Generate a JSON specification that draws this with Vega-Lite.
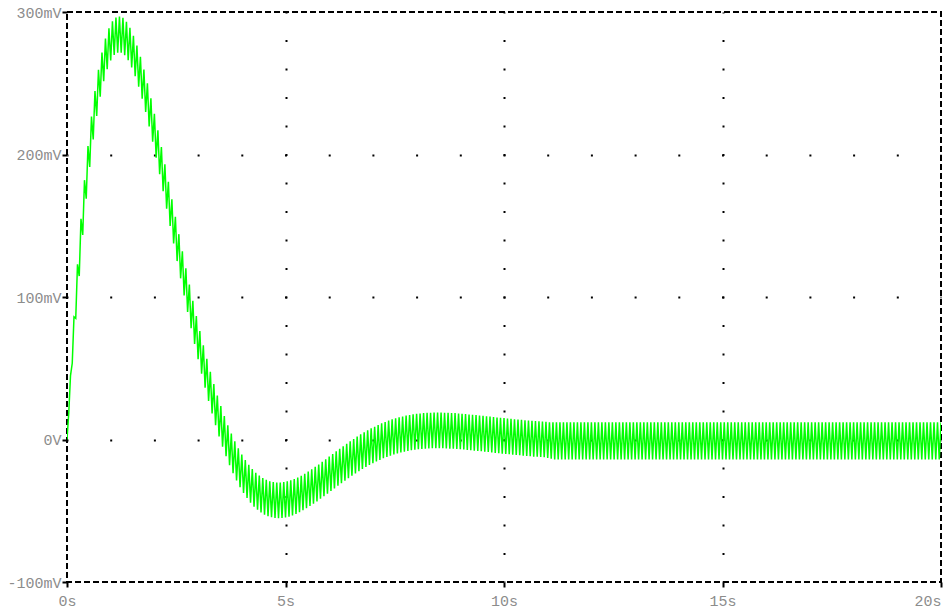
{
  "$schema": "https://vega.github.io/schema/vega-lite/v6.json",
  "autosize": "none",
  "width": 874,
  "height": 570,
  "padding": {"left": 67, "top": 12, "right": 8, "bottom": 31},
  "background": "white",
  "config": {
    "view": {"stroke": "black", "strokeWidth": 2, "strokeDash": [6, 3]},
    "axis": {
      "labelFont": "Liberation Mono",
      "labelFontSize": 15,
      "labelColor": "#8c8c8c",
      "tickColor": "black",
      "tickWidth": 2,
      "tickSize": 5,
      "domain": false,
      "title": null,
      "gridColor": "black",
      "gridWidth": 2
    }
  },
  "data": {"values": [
    {"t":0,"v":0},{"t":0.04,"v":18.4},{"t":0.08,"v":44.8},{"t":0.12,"v":53.5},{"t":0.16,"v":86.1},{"t":0.2,"v":85},{"t":0.24,"v":122.9},{"t":0.28,"v":114.7},{"t":0.32,"v":154.9},{"t":0.36,"v":143.5},
    {"t":0.4,"v":182},{"t":0.44,"v":169},{"t":0.48,"v":205.9},{"t":0.52,"v":191.3},{"t":0.56,"v":226.7},{"t":0.6,"v":210.6},{"t":0.64,"v":244.5},{"t":0.68,"v":227},{"t":0.72,"v":259.4},{"t":0.76,"v":240.5},
    {"t":0.8,"v":271.6},{"t":0.84,"v":251.5},{"t":0.88,"v":281.3},{"t":0.92,"v":259.9},{"t":0.96,"v":288.5},{"t":1,"v":266},{"t":1.04,"v":293.4},{"t":1.08,"v":269.8},{"t":1.12,"v":296.1},{"t":1.16,"v":271.5},
    {"t":1.2,"v":296.9},{"t":1.24,"v":271.4},{"t":1.28,"v":295.9},{"t":1.32,"v":269.6},{"t":1.36,"v":293.2},{"t":1.4,"v":266.1},{"t":1.44,"v":288.9},{"t":1.48,"v":261.1},{"t":1.52,"v":283.3},{"t":1.56,"v":254.9},
    {"t":1.6,"v":276.5},{"t":1.64,"v":247.5},{"t":1.68,"v":268.5},{"t":1.72,"v":239.1},{"t":1.76,"v":259.6},{"t":1.8,"v":229.8},{"t":1.84,"v":249.9},{"t":1.88,"v":219.7},{"t":1.92,"v":239.5},{"t":1.96,"v":209},
    {"t":2,"v":228.5},{"t":2.04,"v":197.8},{"t":2.08,"v":217},{"t":2.12,"v":186.1},{"t":2.16,"v":205.2},{"t":2.2,"v":174.2},{"t":2.24,"v":193.1},{"t":2.28,"v":162},{"t":2.32,"v":180.9},{"t":2.36,"v":149.8},
    {"t":2.4,"v":168.6},{"t":2.44,"v":137.5},{"t":2.48,"v":156.3},{"t":2.52,"v":125.2},{"t":2.56,"v":144.1},{"t":2.6,"v":113.1},{"t":2.64,"v":132},{"t":2.68,"v":101.1},{"t":2.72,"v":120.2},{"t":2.76,"v":89.5},
    {"t":2.8,"v":108.7},{"t":2.84,"v":78.1},{"t":2.88,"v":97.4},{"t":2.92,"v":67},{"t":2.96,"v":86.6},{"t":3,"v":56.4},{"t":3.04,"v":76.1},{"t":3.08,"v":46.1},{"t":3.12,"v":66.1},{"t":3.16,"v":36.4},
    {"t":3.2,"v":56.6},{"t":3.24,"v":27.1},{"t":3.28,"v":47.5},{"t":3.32,"v":18.3},{"t":3.36,"v":39},{"t":3.4,"v":10},{"t":3.44,"v":30.9},{"t":3.48,"v":2.2},{"t":3.52,"v":23.4},{"t":3.56,"v":-5.1},
    {"t":3.6,"v":16.5},{"t":3.64,"v":-11.8},{"t":3.68,"v":10},{"t":3.72,"v":-18},{"t":3.76,"v":4.1},{"t":3.8,"v":-23.6},{"t":3.84,"v":-1.3},{"t":3.88,"v":-28.8},{"t":3.92,"v":-6.2},{"t":3.96,"v":-33.4},
    {"t":4,"v":-10.5},{"t":4.04,"v":-37.5},{"t":4.08,"v":-14.4},{"t":4.12,"v":-41.1},{"t":4.16,"v":-17.8},{"t":4.2,"v":-44.3},{"t":4.24,"v":-20.8},{"t":4.28,"v":-47.1},{"t":4.32,"v":-23.3},{"t":4.36,"v":-49.3},
    {"t":4.4,"v":-25.3},{"t":4.44,"v":-51.2},{"t":4.48,"v":-27},{"t":4.52,"v":-52.7},{"t":4.56,"v":-28.3},{"t":4.6,"v":-53.8},{"t":4.64,"v":-29.3},{"t":4.68,"v":-54.6},{"t":4.72,"v":-29.9},{"t":4.76,"v":-55.1},
    {"t":4.8,"v":-30.2},{"t":4.84,"v":-55.2},{"t":4.88,"v":-30.2},{"t":4.92,"v":-55.1},{"t":4.96,"v":-29.9},{"t":5,"v":-54.7},{"t":5.04,"v":-29.4},{"t":5.08,"v":-54.1},{"t":5.12,"v":-28.7},{"t":5.16,"v":-53.3},
    {"t":5.2,"v":-27.8},{"t":5.24,"v":-52.3},{"t":5.28,"v":-26.7},{"t":5.32,"v":-51.1},{"t":5.36,"v":-25.4},{"t":5.4,"v":-49.7},{"t":5.44,"v":-24},{"t":5.48,"v":-48.3},{"t":5.52,"v":-22.5},{"t":5.56,"v":-46.7},
    {"t":5.6,"v":-20.9},{"t":5.64,"v":-45.1},{"t":5.68,"v":-19.2},{"t":5.72,"v":-43.4},{"t":5.76,"v":-17.5},{"t":5.8,"v":-41.6},{"t":5.84,"v":-15.7},{"t":5.88,"v":-39.8},{"t":5.92,"v":-13.9},{"t":5.96,"v":-38},
    {"t":6,"v":-12},{"t":6.04,"v":-36.1},{"t":6.08,"v":-10.2},{"t":6.12,"v":-34.3},{"t":6.16,"v":-8.3},{"t":6.2,"v":-32.4},{"t":6.24,"v":-6.5},{"t":6.28,"v":-30.6},{"t":6.32,"v":-4.7},{"t":6.36,"v":-28.9},
    {"t":6.4,"v":-3},{"t":6.44,"v":-27.1},{"t":6.48,"v":-1.2},{"t":6.52,"v":-25.4},{"t":6.56,"v":0.4},{"t":6.6,"v":-23.8},{"t":6.64,"v":2},{"t":6.68,"v":-22.2},{"t":6.72,"v":3.6},{"t":6.76,"v":-20.7},
    {"t":6.8,"v":5},{"t":6.84,"v":-19.3},{"t":6.88,"v":6.4},{"t":6.92,"v":-17.9},{"t":6.96,"v":7.8},{"t":7,"v":-16.6},{"t":7.04,"v":9},{"t":7.08,"v":-15.4},{"t":7.12,"v":10.2},{"t":7.16,"v":-14.3},
    {"t":7.2,"v":11.3},{"t":7.24,"v":-13.2},{"t":7.28,"v":12.3},{"t":7.32,"v":-12.2},{"t":7.36,"v":13.3},{"t":7.4,"v":-11.3},{"t":7.44,"v":14.1},{"t":7.48,"v":-10.5},{"t":7.52,"v":14.9},{"t":7.56,"v":-9.8},
    {"t":7.6,"v":15.6},{"t":7.64,"v":-9.1},{"t":7.68,"v":16.2},{"t":7.72,"v":-8.5},{"t":7.76,"v":16.8},{"t":7.8,"v":-8},{"t":7.84,"v":17.2},{"t":7.88,"v":-7.6},{"t":7.92,"v":17.7},{"t":7.96,"v":-7.2},
    {"t":8,"v":18},{"t":8.04,"v":-6.9},{"t":8.08,"v":18.3},{"t":8.12,"v":-6.6},{"t":8.16,"v":18.5},{"t":8.2,"v":-6.4},{"t":8.24,"v":18.7},{"t":8.28,"v":-6.3},{"t":8.32,"v":18.8},{"t":8.36,"v":-6.2},
    {"t":8.4,"v":18.9},{"t":8.44,"v":-6.1},{"t":8.48,"v":18.9},{"t":8.52,"v":-6.1},{"t":8.56,"v":18.9},{"t":8.6,"v":-6.2},{"t":8.64,"v":18.8},{"t":8.68,"v":-6.3},{"t":8.72,"v":18.7},{"t":8.76,"v":-6.4},
    {"t":8.8,"v":18.6},{"t":8.84,"v":-6.5},{"t":8.88,"v":18.5},{"t":8.92,"v":-6.6},{"t":8.96,"v":18.3},{"t":9,"v":-6.8},{"t":9.04,"v":18.1},{"t":9.08,"v":-7},{"t":9.12,"v":17.9},{"t":9.16,"v":-7.3},
    {"t":9.2,"v":17.6},{"t":9.24,"v":-7.5},{"t":9.28,"v":17.4},{"t":9.32,"v":-7.8},{"t":9.36,"v":17.1},{"t":9.4,"v":-8},{"t":9.44,"v":16.9},{"t":9.48,"v":-8.3},{"t":9.52,"v":16.6},{"t":9.56,"v":-8.6},
    {"t":9.6,"v":16.3},{"t":9.64,"v":-8.8},{"t":9.68,"v":16.1},{"t":9.72,"v":-9.1},{"t":9.76,"v":15.8},{"t":9.8,"v":-9.4},{"t":9.84,"v":15.5},{"t":9.88,"v":-9.7},{"t":9.92,"v":15.2},{"t":9.96,"v":-9.9},
    {"t":10,"v":15},{"t":10.04,"v":-10.2},{"t":10.08,"v":14.7},{"t":10.12,"v":-10.4},{"t":10.16,"v":14.5},{"t":10.2,"v":-10.7},{"t":10.24,"v":14.2},{"t":10.28,"v":-10.9},{"t":10.32,"v":14},{"t":10.36,"v":-11.1},
    {"t":10.4,"v":13.8},{"t":10.44,"v":-11.4},{"t":10.48,"v":13.5},{"t":10.52,"v":-11.6},{"t":10.56,"v":13.3},{"t":10.6,"v":-11.8},{"t":10.64,"v":13.1},{"t":10.68,"v":-12},{"t":10.72,"v":13},{"t":10.76,"v":-12.1},
    {"t":10.8,"v":12.8},{"t":10.84,"v":-12.3},{"t":10.88,"v":12.6},{"t":10.92,"v":-12.5},{"t":10.96,"v":12.5},{"t":11,"v":-13},{"t":11.04,"v":12},{"t":11.08,"v":-13.5},{"t":11.12,"v":12},{"t":11.16,"v":-14},
    {"t":11.2,"v":12},{"t":11.24,"v":-14},{"t":11.28,"v":12},{"t":11.32,"v":-14},{"t":11.36,"v":12},{"t":11.4,"v":-14},{"t":11.44,"v":12},{"t":11.48,"v":-14},{"t":11.52,"v":12},{"t":11.56,"v":-14},
    {"t":11.6,"v":12},{"t":11.64,"v":-14},{"t":11.68,"v":12},{"t":11.72,"v":-14},{"t":11.76,"v":12},{"t":11.8,"v":-14},{"t":11.84,"v":12},{"t":11.88,"v":-14},{"t":11.92,"v":12},{"t":11.96,"v":-14},
    {"t":12,"v":12},{"t":12.04,"v":-14},{"t":12.08,"v":12},{"t":12.12,"v":-14},{"t":12.16,"v":12},{"t":12.2,"v":-14},{"t":12.24,"v":12},{"t":12.28,"v":-14},{"t":12.32,"v":12},{"t":12.36,"v":-14},
    {"t":12.4,"v":12},{"t":12.44,"v":-14},{"t":12.48,"v":12},{"t":12.52,"v":-14},{"t":12.56,"v":12},{"t":12.6,"v":-14},{"t":12.64,"v":12},{"t":12.68,"v":-14},{"t":12.72,"v":12},{"t":12.76,"v":-14},
    {"t":12.8,"v":12},{"t":12.84,"v":-14},{"t":12.88,"v":12},{"t":12.92,"v":-14},{"t":12.96,"v":12},{"t":13,"v":-14},{"t":13.04,"v":12},{"t":13.08,"v":-14},{"t":13.12,"v":12},{"t":13.16,"v":-14},
    {"t":13.2,"v":12},{"t":13.24,"v":-14},{"t":13.28,"v":12},{"t":13.32,"v":-14},{"t":13.36,"v":12},{"t":13.4,"v":-14},{"t":13.44,"v":12},{"t":13.48,"v":-14},{"t":13.52,"v":12},{"t":13.56,"v":-14},
    {"t":13.6,"v":12},{"t":13.64,"v":-14},{"t":13.68,"v":12},{"t":13.72,"v":-14},{"t":13.76,"v":12},{"t":13.8,"v":-14},{"t":13.84,"v":12},{"t":13.88,"v":-14},{"t":13.92,"v":12},{"t":13.96,"v":-14},
    {"t":14,"v":12},{"t":14.04,"v":-14},{"t":14.08,"v":12},{"t":14.12,"v":-14},{"t":14.16,"v":12},{"t":14.2,"v":-14},{"t":14.24,"v":12},{"t":14.28,"v":-14},{"t":14.32,"v":12},{"t":14.36,"v":-14},
    {"t":14.4,"v":12},{"t":14.44,"v":-14},{"t":14.48,"v":12},{"t":14.52,"v":-14},{"t":14.56,"v":12},{"t":14.6,"v":-14},{"t":14.64,"v":12},{"t":14.68,"v":-14},{"t":14.72,"v":12},{"t":14.76,"v":-14},
    {"t":14.8,"v":12},{"t":14.84,"v":-14},{"t":14.88,"v":12},{"t":14.92,"v":-14},{"t":14.96,"v":12},{"t":15,"v":-14},{"t":15.04,"v":12},{"t":15.08,"v":-14},{"t":15.12,"v":12},{"t":15.16,"v":-14},
    {"t":15.2,"v":12},{"t":15.24,"v":-14},{"t":15.28,"v":12},{"t":15.32,"v":-14},{"t":15.36,"v":12},{"t":15.4,"v":-14},{"t":15.44,"v":12},{"t":15.48,"v":-14},{"t":15.52,"v":12},{"t":15.56,"v":-14},
    {"t":15.6,"v":12},{"t":15.64,"v":-14},{"t":15.68,"v":12},{"t":15.72,"v":-14},{"t":15.76,"v":12},{"t":15.8,"v":-14},{"t":15.84,"v":12},{"t":15.88,"v":-14},{"t":15.92,"v":12},{"t":15.96,"v":-14},
    {"t":16,"v":12},{"t":16.04,"v":-14},{"t":16.08,"v":12},{"t":16.12,"v":-14},{"t":16.16,"v":12},{"t":16.2,"v":-14},{"t":16.24,"v":12},{"t":16.28,"v":-14},{"t":16.32,"v":12},{"t":16.36,"v":-14},
    {"t":16.4,"v":12},{"t":16.44,"v":-14},{"t":16.48,"v":12},{"t":16.52,"v":-14},{"t":16.56,"v":12},{"t":16.6,"v":-14},{"t":16.64,"v":12},{"t":16.68,"v":-14},{"t":16.72,"v":12},{"t":16.76,"v":-14},
    {"t":16.8,"v":12},{"t":16.84,"v":-14},{"t":16.88,"v":12},{"t":16.92,"v":-14},{"t":16.96,"v":12},{"t":17,"v":-14},{"t":17.04,"v":12},{"t":17.08,"v":-14},{"t":17.12,"v":12},{"t":17.16,"v":-14},
    {"t":17.2,"v":12},{"t":17.24,"v":-14},{"t":17.28,"v":12},{"t":17.32,"v":-14},{"t":17.36,"v":12},{"t":17.4,"v":-14},{"t":17.44,"v":12},{"t":17.48,"v":-14},{"t":17.52,"v":12},{"t":17.56,"v":-14},
    {"t":17.6,"v":12},{"t":17.64,"v":-14},{"t":17.68,"v":12},{"t":17.72,"v":-14},{"t":17.76,"v":12},{"t":17.8,"v":-14},{"t":17.84,"v":12},{"t":17.88,"v":-14},{"t":17.92,"v":12},{"t":17.96,"v":-14},
    {"t":18,"v":12},{"t":18.04,"v":-14},{"t":18.08,"v":12},{"t":18.12,"v":-14},{"t":18.16,"v":12},{"t":18.2,"v":-14},{"t":18.24,"v":12},{"t":18.28,"v":-14},{"t":18.32,"v":12},{"t":18.36,"v":-14},
    {"t":18.4,"v":12},{"t":18.44,"v":-14},{"t":18.48,"v":12},{"t":18.52,"v":-14},{"t":18.56,"v":12},{"t":18.6,"v":-14},{"t":18.64,"v":12},{"t":18.68,"v":-14},{"t":18.72,"v":12},{"t":18.76,"v":-14},
    {"t":18.8,"v":12},{"t":18.84,"v":-14},{"t":18.88,"v":12},{"t":18.92,"v":-14},{"t":18.96,"v":12},{"t":19,"v":-14},{"t":19.04,"v":12},{"t":19.08,"v":-14},{"t":19.12,"v":12},{"t":19.16,"v":-14},
    {"t":19.2,"v":12},{"t":19.24,"v":-14},{"t":19.28,"v":12},{"t":19.32,"v":-14},{"t":19.36,"v":12},{"t":19.4,"v":-14},{"t":19.44,"v":12},{"t":19.48,"v":-14},{"t":19.52,"v":12},{"t":19.56,"v":-14},
    {"t":19.6,"v":12},{"t":19.64,"v":-14},{"t":19.68,"v":12},{"t":19.72,"v":-14},{"t":19.76,"v":12},{"t":19.8,"v":-14},{"t":19.84,"v":12},{"t":19.88,"v":-14},{"t":19.92,"v":12},{"t":19.96,"v":-14},
    {"t":20,"v":12}
  ]},
  "mark": {"type": "line", "color": "#00ff00", "strokeWidth": 1.5, "strokeJoin": "miter", "clip": true},
  "encoding": {
    "x": {
      "field": "t", "type": "quantitative",
      "scale": {"domain": [0, 20], "nice": false, "zero": false},
      "axis": {
        "values": [0, 5, 10, 15, 20],
        "labelExpr": "datum.value + 's'",
        "labelPadding": 6,
        "labelAlign": {"condition": {"test": "datum.value == 20", "value": "right"}, "value": "center"},
        "grid": true,
        "gridDash": [2, 26.5],
        "gridDashOffset": 1,
        "gridOpacity": {"condition": {"test": "datum.value == 0 || datum.value == 20", "value": 0}, "value": 1}
      }
    },
    "y": {
      "field": "v", "type": "quantitative",
      "scale": {"domain": [-100, 300], "nice": false, "zero": false},
      "axis": {
        "values": [-100, 0, 100, 200, 300],
        "labelExpr": "datum.value == 0 ? '0V' : datum.value + 'mV'",
        "labelPadding": 1,
        "grid": true,
        "gridDash": [2, 41.7],
        "gridDashOffset": 1,
        "gridOpacity": {"condition": {"test": "datum.value == -100 || datum.value == 300", "value": 0}, "value": 1}
      }
    }
  }
}
